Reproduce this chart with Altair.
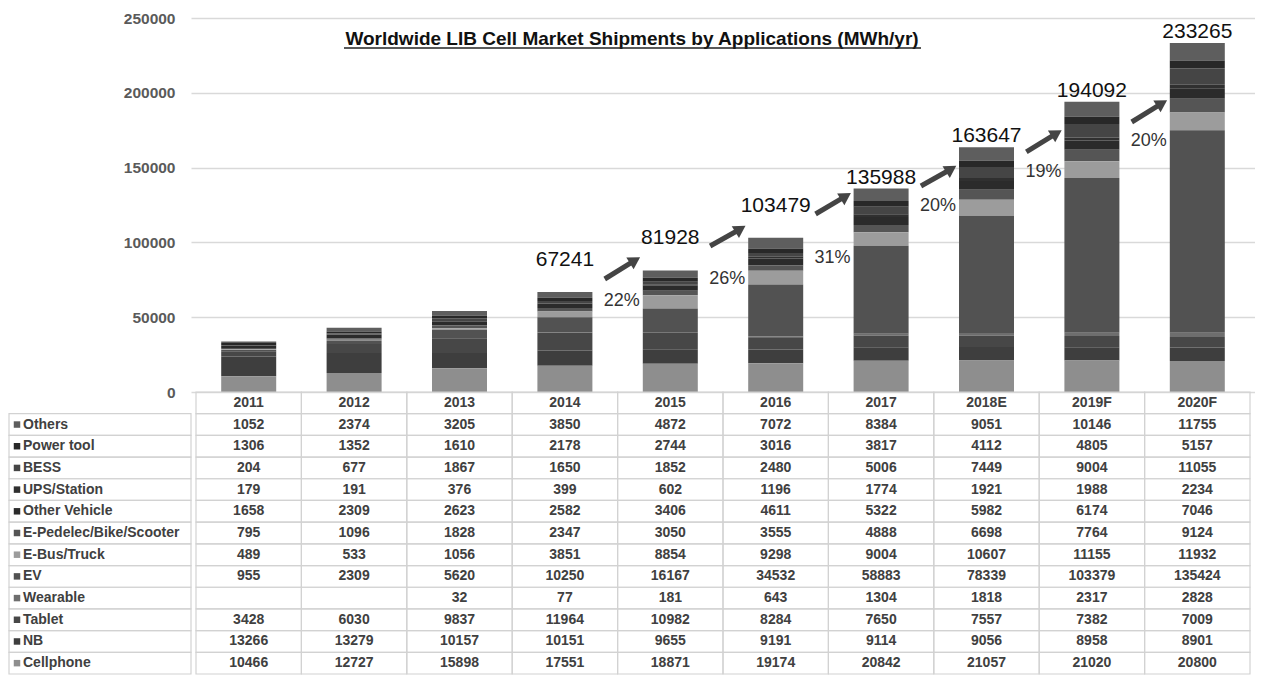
import altair as alt
import pandas as pd

years = ["2011", "2012", "2013", "2014", "2015", "2016", "2017", "2018E", "2019F", "2020F"]

series_names = ["Others", "Power tool", "BESS", "UPS/Station", "Other Vehicle",
                "E-Pedelec/Bike/Scooter", "E-Bus/Truck", "EV", "Wearable",
                "Tablet", "NB", "Cellphone"]

others = [1052, 2374, 3205, 3850, 4872, 7072, 8384, 9051, 10146, 11755]
power_tool = [1306, 1352, 1610, 2178, 2744, 3016, 3817, 4112, 4805, 5157]
bess = [204, 677, 1867, 1650, 1852, 2480, 5006, 7449, 9004, 11055]
ups_station = [179, 191, 376, 399, 602, 1196, 1774, 1921, 1988, 2234]
other_vehicle = [1658, 2309, 2623, 2582, 3406, 4611, 5322, 5982, 6174, 7046]
e_pedelec = [795, 1096, 1828, 2347, 3050, 3555, 4888, 6698, 7764, 9124]
e_bus_truck = [489, 533, 1056, 3851, 8854, 9298, 9004, 10607, 11155, 11932]
ev = [955, 2309, 5620, 10250, 16167, 34532, 58883, 78339, 103379, 135424]
wearable = [None, None, 32, 77, 181, 643, 1304, 1818, 2317, 2828]
tablet = [3428, 6030, 9837, 11964, 10982, 8284, 7650, 7557, 7382, 7009]
nb = [13266, 13279, 10157, 10151, 9655, 9191, 9114, 9056, 8958, 8901]
cellphone = [10466, 12727, 15898, 17551, 18871, 19174, 20842, 21057, 21020, 20800]

series_values = [others, power_tool, bess, ups_station, other_vehicle, e_pedelec,
                 e_bus_truck, ev, wearable, tablet, nb, cellphone]

series_colors = ["#5e5e5e", "#282828", "#454545", "#303030", "#2b2b2b", "#555555",
                 "#9c9c9c", "#525252", "#6e6e6e", "#474747", "#3e3e3e", "#8e8e8e"]

# printed totals above bars (2014 onwards)
total_labels = [None, None, None, 67241, 81928, 103479, 135988, 163647, 194092, 233265]
# growth labels between consecutive years (2014->2015 ... 2019F->2020F)
growth_labels = ["22%", "26%", "31%", "20%", "19%", "20%"]
growth_label_y = [60830, 75530, 89570, 124330, 147060, 167780]
arrow_tail_y = [75535, 97594, 118984, 137700, 160430, 180480]
arrow_tip_y = [90240, 110963, 133022, 151070, 175130, 195190]

title = "Worldwide LIB Cell Market Shipments by Applications (MWh/yr)"

FONT = "Liberation Sans"
W, H = 1064, 656
BAR_H = 374

# ---------- data tables ----------
rows = []
for si, (name, vals) in enumerate(zip(series_names, series_values)):
    for yi, (yr, v) in enumerate(zip(years, vals)):
        rows.append({"series": name, "year": yr, "value": v,
                     "xc": yi + 0.5, "xlo": yi, "xhi": yi + 1,
                     "ord": len(series_names) - 1 - si,
                     "txt": "" if v is None else str(v)})
df = pd.DataFrame(rows)
df_bars = df.dropna(subset=["value"])

df_tot = pd.DataFrame({"xc": [i + 0.5 for i in range(len(years))],
                       "total": total_labels})
df_tot = df_tot.dropna()
df_tot["label"] = df_tot["total"].astype(int).astype(str)
df_tot_a = df_tot[df_tot["xc"] < 6]
df_tot_b = df_tot[df_tot["xc"] > 6]

first = len(years) - len(growth_labels)  # boundaries between year i and i+1
bounds = [first + k for k in range(len(growth_labels))]
df_pct = pd.DataFrame({"x": [b + 0.04 for b in bounds],
                       "y": growth_label_y, "label": growth_labels})
df_arrow = pd.DataFrame({
    "x1": [b - 0.122 for b in bounds],
    "x2": [b - 0.122 + 0.8 * 0.338 for b in bounds],
    "y1": arrow_tail_y,
    "y2": [t + 0.8 * (h - t) for t, h in zip(arrow_tail_y, arrow_tip_y)],
    "hx": [b - 0.122 + 0.85 * 0.338 for b in bounds],
    "hy": [t + 0.85 * (h - t) for t, h in zip(arrow_tail_y, arrow_tip_y)],
})

row_domain = ["hdr"] + series_names
df_hdr = pd.DataFrame({"row": "hdr", "year": years,
                       "xc": [i + 0.5 for i in range(len(years))],
                       "xlo": list(range(len(years))),
                       "xhi": [i + 1 for i in range(len(years))]})
df_lab = pd.DataFrame({"row": series_names, "series": series_names})
df_title = pd.DataFrame({"t": [title]})

# ---------- scales ----------
xscale = alt.Scale(domain=[0, len(years)], nice=False, zero=False)
yscale = alt.Scale(domain=[0, 250000], range=[BAR_H, 0], nice=False)
rscale = alt.Scale(type="band", domain=row_domain, range=[BAR_H, H],
                   paddingInner=0, paddingOuter=0)
cscale = alt.Scale(domain=series_names, range=series_colors)

yaxis = alt.Axis(values=[0, 50000, 100000, 150000, 200000, 250000], format="d",
                 domain=False, ticks=False, labelPadding=16, labelFontSize=15.5,
                 labelFontWeight="bold", labelColor="#5a5a5a", gridColor="#d9d9d9",
                 gridWidth=1.5, title=None, labelFont=FONT)

# ---------- bar group ----------
bars = alt.Chart(df_bars).mark_bar(size=55).encode(
    x=alt.X("xc:Q", scale=xscale, axis=None),
    y=alt.Y("value:Q", stack="zero", scale=yscale, axis=yaxis),
    color=alt.Color("series:N", scale=cscale, legend=None),
    order=alt.Order("ord:Q", sort="ascending"),
)

tot_a = alt.Chart(df_tot_a).mark_text(fontSize=21, font=FONT, color="#111111",
                                      baseline="alphabetic", dy=-25).encode(
    x=alt.X("xc:Q", scale=xscale), y=alt.Y("total:Q", scale=yscale), text="label:N")
tot_b = alt.Chart(df_tot_b).mark_text(fontSize=21, font=FONT, color="#111111",
                                      baseline="alphabetic", dy=-5).encode(
    x=alt.X("xc:Q", scale=xscale), y=alt.Y("total:Q", scale=yscale), text="label:N")

pct = alt.Chart(df_pct).mark_text(fontSize=18, font=FONT, color="#333333",
                                  baseline="middle").encode(
    x=alt.X("x:Q", scale=xscale), y=alt.Y("y:Q", scale=yscale), text="label:N")

arrow_lines = alt.Chart(df_arrow).mark_rule(strokeWidth=5, color="#444444").encode(
    x=alt.X("x1:Q", scale=xscale), x2="x2:Q",
    y=alt.Y("y1:Q", scale=yscale), y2="y2:Q")
arrow_heads = alt.Chart(df_arrow).mark_point(shape="triangle-up", filled=True, size=190,
                                             angle=58, color="#444444", opacity=1).encode(
    x=alt.X("hx:Q", scale=xscale), y=alt.Y("hy:Q", scale=yscale))

title_text = alt.Chart(df_title).mark_text(fontSize=19, fontWeight="bold", font=FONT,
                                           color="#111111", baseline="middle").encode(
    x=alt.value(441), y=alt.value(21), text="t:N")
title_rule = alt.Chart(df_title).mark_rule(color="#222222", strokeWidth=1.5).encode(
    x=alt.value(153), x2=alt.value(730), y=alt.value(30))

bar_group = alt.layer(bars, tot_a, tot_b, pct, arrow_lines, arrow_heads,
                      title_text, title_rule)

# ---------- table group ----------
cell_style = dict(fill="white", fillOpacity=0, stroke="#d2d2d2", strokeWidth=1.2)
cells = alt.Chart(df).mark_rect(**cell_style).encode(
    x=alt.X("xlo:Q", scale=xscale), x2="xhi:Q",
    y=alt.Y("series:N", scale=rscale, axis=None))
hdr_cells = alt.Chart(df_hdr).mark_rect(**cell_style).encode(
    x=alt.X("xlo:Q", scale=xscale), x2="xhi:Q",
    y=alt.Y("row:N", scale=rscale, axis=None))
label_cells = alt.Chart(df_lab).mark_rect(**cell_style).encode(
    x=alt.value(-182), x2=alt.value(0),
    y=alt.Y("row:N", scale=rscale, axis=None))

text_style = dict(fontSize=14, fontWeight="bold", font=FONT, color="#404040",
                  baseline="middle")
hdr_text = alt.Chart(df_hdr).mark_text(**text_style).encode(
    x=alt.X("xc:Q", scale=xscale), y=alt.Y("row:N", scale=rscale, axis=None),
    text="year:N")
val_text = alt.Chart(df).mark_text(**text_style).encode(
    x=alt.X("xc:Q", scale=xscale), y=alt.Y("series:N", scale=rscale, axis=None),
    text="txt:N")
squares = alt.Chart(df_lab).mark_square(size=42, opacity=1).encode(
    x=alt.value(-174), y=alt.Y("row:N", scale=rscale, axis=None),
    color=alt.Color("series:N", scale=cscale, legend=None))
label_text = alt.Chart(df_lab).mark_text(align="left", **text_style).encode(
    x=alt.value(-168), y=alt.Y("row:N", scale=rscale, axis=None),
    text="series:N")

table_group = alt.layer(cells, hdr_cells, label_cells, hdr_text, val_text,
                        squares, label_text)

chart = (
    alt.layer(bar_group, table_group)
    .resolve_scale(y="independent")
    .properties(width=W, height=H,
                padding={"left": 0, "right": 0, "top": 3, "bottom": 0})
    .configure(font=FONT)
    .configure_view(stroke=None)
    .configure_axis(domain=False, ticks=False)
)

chart.save("out.html", embed_options={"renderer": "svg", "actions": False})
